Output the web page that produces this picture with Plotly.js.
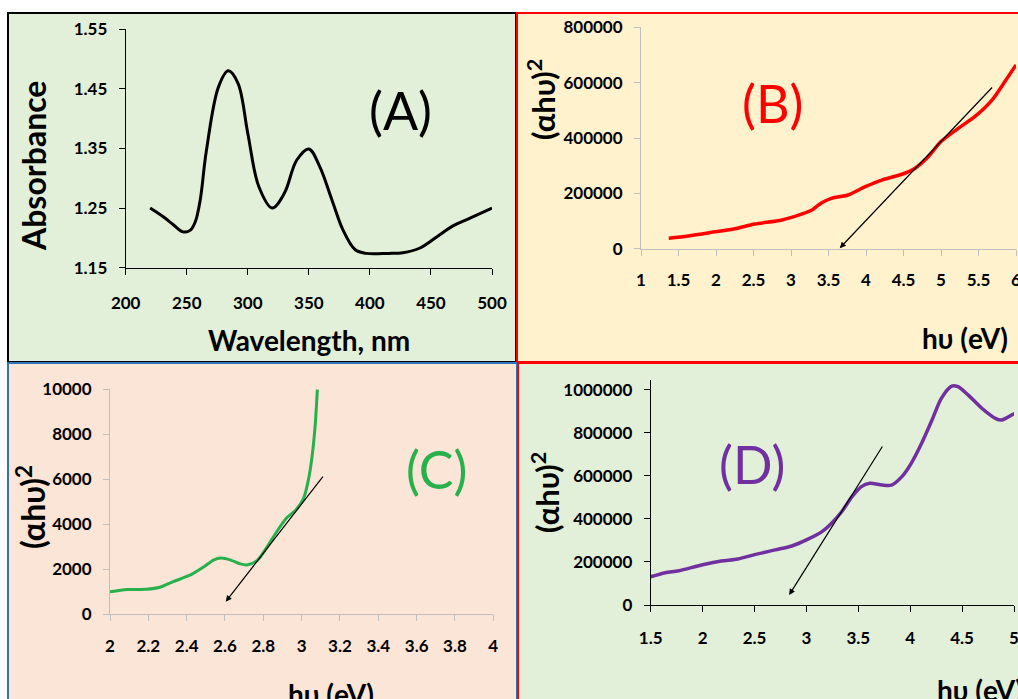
<!DOCTYPE html>
<html><head><meta charset="utf-8">
<script src="https://cdn.plot.ly/plotly-3.0.1.min.js"></script>
<style>html,body{margin:0;padding:0;background:#fff}#chart{width:1018px;height:699px}</style>
</head><body><div id="chart"></div><script>
// ---- Panel A: absorbance spectrum ----
const wavelength = [220,231,239,247,253,257,261,266,276,284,292,300,309,320,330,340,350,359,369,378,388,397,415,427,441,455,468,482,500];
const absorbance = [1.250,1.235,1.222,1.210,1.213,1.227,1.263,1.345,1.453,1.480,1.459,1.375,1.286,1.250,1.275,1.330,1.349,1.319,1.263,1.213,1.180,1.174,1.174,1.175,1.183,1.202,1.220,1.233,1.250];
const aTicksX = [200,250,300,350,400,450,500];
const aTicksY = [1.15,1.25,1.35,1.45,1.55];
// ---- Panel B ----
const bEnergy = [1.37,1.63,1.99,2.25,2.52,2.88,3.14,3.28,3.41,3.54,3.76,3.99,4.21,4.48,4.65,4.83,5.00,5.23,5.45,5.68,5.85,6.00];
const bValue  = [38000,46000,61000,72000,89000,104000,125000,140000,166000,182000,194000,224000,248000,269000,290000,332000,387000,435000,477000,537000,603000,664000];
const bTangentX = [5.70, 3.65];
const bTangentY = [588000, 2000];
const bTicksX = [1,1.5,2,2.5,3,3.5,4,4.5,5,5.5,6];
const bTicksY = [0,200000,400000,600000,800000];
// ---- Panel C ----
const cEnergy = [2.00,2.09,2.19,2.26,2.33,2.42,2.49,2.54,2.58,2.63,2.68,2.72,2.77,2.82,2.87,2.92,2.97,3.01,3.035,3.052,3.07,3.082];
const cValue  = [1000,1100,1110,1200,1450,1750,2110,2410,2500,2410,2240,2200,2410,3000,3670,4270,4640,5150,5970,6860,8340,10000];
const cTangentX = [3.117, 2.604];
const cTangentY = [6190, 560];
const cTicksX = [2,2.2,2.4,2.6,2.8,3,3.2,3.4,3.6,3.8,4];
const cTicksY = [0,2000,4000,6000,8000,10000];
// ---- Panel D ----
const dEnergy = [1.50,1.64,1.77,1.99,2.18,2.34,2.51,2.70,2.86,3.02,3.15,3.24,3.34,3.44,3.53,3.61,3.73,3.82,3.92,4.01,4.11,4.21,4.30,4.40,4.46,4.56,4.69,4.82,4.88,4.98,5.01];
const dValue  = [131000,150000,159000,186000,204000,214000,235000,256000,274000,307000,341000,379000,433000,503000,550000,565000,557000,557000,596000,658000,751000,859000,960000,1017000,1014000,975000,914000,867000,859000,883000,890000];
const dTangentX = [3.741, 2.834];
const dTangentY = [743000, 46400];
const dTicksX = [1.5,2,2.5,3,3.5,4,4.5,5];
const dTicksY = [0,200000,400000,600000,800000,1000000];

const W = 1018, H = 699;
const px = v => v / W;
const py = v => 1 - v / H;
const FONT = "Lato, 'Open Sans', 'DejaVu Sans', sans-serif";

function axis(d0, d1, range, ticks, color, standoff, fmt) {
  return {
    domain: [d0, d1], range: range, tickmode: 'array', tickvals: ticks,
    ticktext: ticks.map(fmt || String),
    showgrid: false, zeroline: false, showline: true, linecolor: color, linewidth: 1,
    ticks: 'outside', ticklen: 6, tickcolor: color, tickwidth: 1,
    ticklabelstandoff: standoff, ticklabeloverflow: 'allow',
    tickfont: {family: FONT, size: 17, color: '#000', weight: 'bold'},
    fixedrange: true
  };
}

const traces = [
  {x: wavelength, y: absorbance, xaxis: 'x', yaxis: 'y', mode: 'lines', line: {color: '#000', width: 3, shape: 'spline', smoothing: 1}, hoverinfo: 'skip'},
  {x: bEnergy, y: bValue, xaxis: 'x2', yaxis: 'y2', mode: 'lines', line: {color: '#ff0000', width: 3.5, shape: 'spline', smoothing: 0.8}, hoverinfo: 'skip'},
  {x: cEnergy, y: cValue, xaxis: 'x3', yaxis: 'y3', mode: 'lines', line: {color: '#27b04b', width: 3, shape: 'spline', smoothing: 0.8}, hoverinfo: 'skip'},
  {x: dEnergy, y: dValue, xaxis: 'x4', yaxis: 'y4', mode: 'lines', line: {color: '#7030a0', width: 3.5, shape: 'spline', smoothing: 0.8}, hoverinfo: 'skip'}
];

function panel(x0, y0, x1, y1, fill, line) {
  return {type: 'rect', xref: 'paper', yref: 'paper', x0: px(x0), x1: px(x1), y0: py(y1), y1: py(y0),
    fillcolor: fill, line: {color: line, width: 2}, layer: 'below'};
}
const shapes = [
  panel(8, 13, 516, 362, '#e2efd9', '#000000'),
  panel(517, 13, 1019, 362, '#fff2cc', '#ff0000'),
  panel(8, 363, 517, 700, '#fbe5d6', '#2e75b6'),
  panel(518, 363, 1019, 700, '#e2efd9', '#ff0000')
];

function label(text, x, y, size, color, angle, weight, anchor) {
  return {xref: 'paper', yref: 'paper', x: px(x), y: py(y), text: text, showarrow: false,
    textangle: angle || 0, xanchor: anchor || 'center', yanchor: 'middle',
    font: {family: FONT, size: size, color: color, weight: weight || 'bold'}};
}
function arrow(xs, ys, xa, ya) {
  return {xref: xa, yref: ya, axref: xa, ayref: ya, x: xs[1], y: ys[1], ax: xs[0], ay: ys[0],
    text: '', showarrow: true, arrowhead: 2, arrowsize: 1, arrowwidth: 1.2, arrowcolor: '#000', standoff: 0};
}
const annotations = [
  label('Absorbance', 33, 166, 32, '#000', -90),
  label('Wavelength, nm', 309, 340, 28, '#000'),
  label('(A)', 400, 110, 52, '#000', 0, 'normal'),
  label('(αhυ)<sup>2</sup>', 541, 100, 31, '#000', -90),
  label('hυ (eV)', 965, 338, 28, '#000'),
  label('(B)', 772, 103, 52, '#ff0000', 0, 'normal'),
  label('(αhυ)<sup>2</sup>', 31, 507, 32, '#000', -90),
  label('hυ (eV)', 331, 694, 28, '#000'),
  label('(C)', 436, 469, 52, '#27b04b', 0, 'normal'),
  label('(αhυ)<sup>2</sup>', 545, 493, 31, '#000', -90),
  label('hυ (eV)', 935, 690, 28, '#000', 0, 'bold', 'left'),
  label('(D)', 752, 464, 52, '#7030a0', 0, 'normal'),
  arrow(bTangentX, bTangentY, 'x2', 'y2'),
  arrow(cTangentX, cTangentY, 'x3', 'y3'),
  arrow(dTangentX, dTangentY, 'x4', 'y4')
];

const intFmt = v => String(Math.round(v));
const layout = {
  width: W, height: H, margin: {l: 0, r: 0, t: 0, b: 0},
  paper_bgcolor: '#ffffff', plot_bgcolor: 'rgba(0,0,0,0)', showlegend: false,
  xaxis:  Object.assign(axis(px(125.7), px(492), [200, 500], aTicksX, '#000', 14), {anchor: 'y'}),
  yaxis:  Object.assign(axis(py(267.7), py(29), [1.15, 1.55], aTicksY, '#000', 8, v => v.toFixed(2)), {anchor: 'x'}),
  xaxis2: Object.assign(axis(px(641), px(1016), [1, 6], bTicksX, '#bfbfbf', 10), {anchor: 'y2'}),
  yaxis2: Object.assign(axis(py(248.7), py(27.3), [0, 800000], bTicksY, '#bfbfbf', 8, intFmt), {anchor: 'x2'}),
  xaxis3: Object.assign(axis(px(110), px(493.3), [2, 4], cTicksX, '#bfbfbf', 10), {anchor: 'y3'}),
  yaxis3: Object.assign(axis(py(614.3), py(389.3), [0, 10000], cTicksY, '#bfbfbf', 8, intFmt), {anchor: 'x3'}),
  xaxis4: Object.assign(axis(px(650.7), px(1014), [1.5, 5], dTicksX, '#000', 12), {anchor: 'y4'}),
  yaxis4: Object.assign(axis(py(605), py(380), [0, 1045000], dTicksY, '#000', 8, intFmt), {anchor: 'x4'}),
  shapes: shapes, annotations: annotations
};
Plotly.newPlot('chart', traces, layout, {displayModeBar: false, staticPlot: true});
</script></body></html>
